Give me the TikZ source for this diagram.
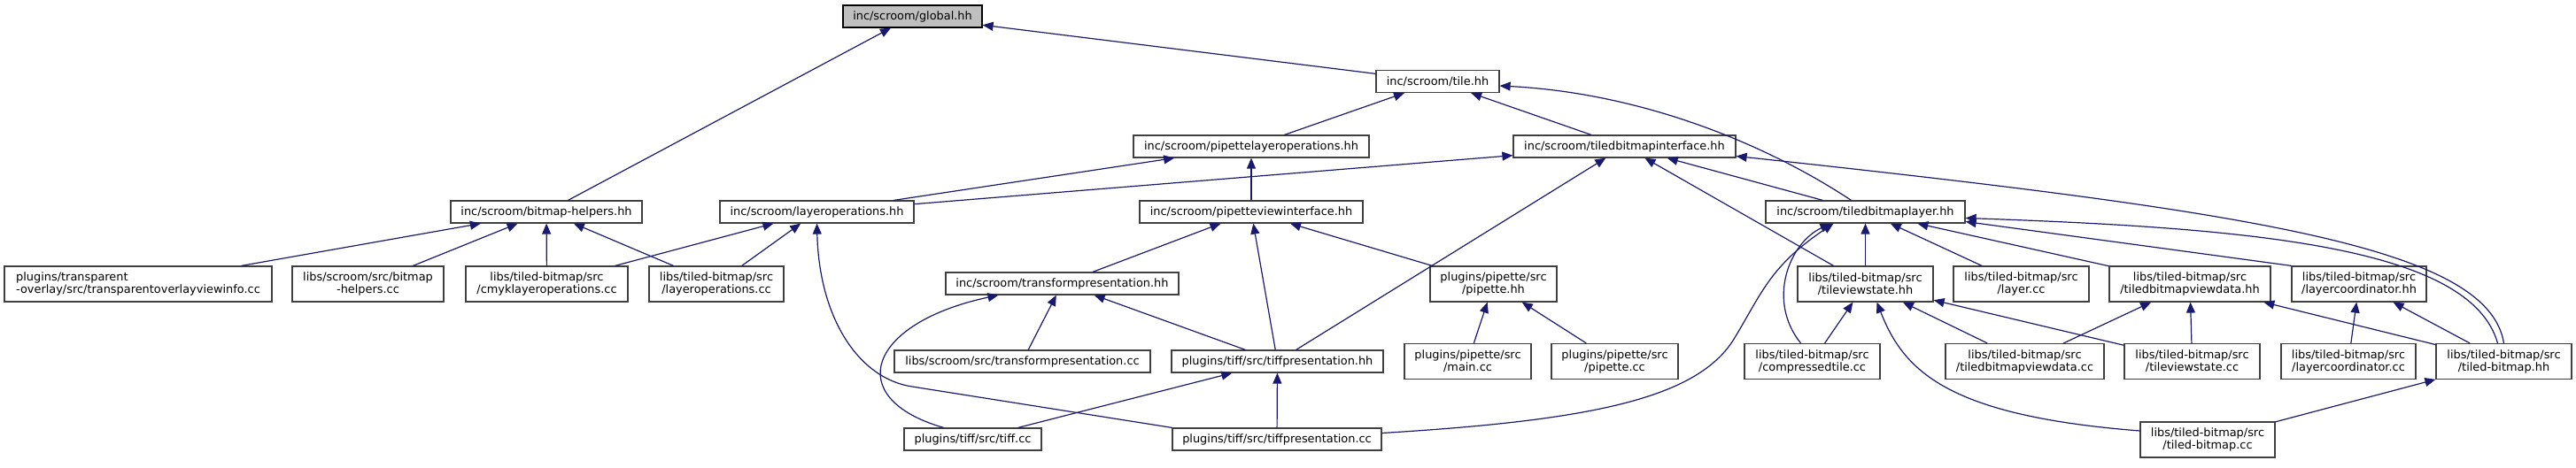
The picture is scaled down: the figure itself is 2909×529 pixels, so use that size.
\documentclass[tikz,border=0pt]{standalone}
\usepackage{fontspec}
\setmainfont{DejaVu Sans}
\usepackage{xcolor}
\usepackage{tikz}
\usetikzlibrary{arrows.meta}

\definecolor{edgeblue}{HTML}{191970}
\definecolor{boxline}{HTML}{404040}
\definecolor{mainfill}{HTML}{BFBFBF}

\tikzset{
    file/.style={draw=boxline, line width=1.2pt, fill=white, inner sep=0pt,
        minimum height=25pt, align=center, font=\fontsize{12.9}{14}\selectfont},
    file2/.style={file, minimum height=40pt},
    dep/.style={draw=edgeblue, line width=1.2pt, {Triangle[length=12pt,width=10pt]}-},
}

\begin{document}
\begin{tikzpicture}[x=1pt,y=-1pt]
    \useasboundingbox (0,0) rectangle (2909,529);

    \node[file, fill=mainfill, draw=black, minimum width=157pt] (global) at (1030.5,18.5) {inc/scroom/global.hh};
    \node[file, minimum width=139pt] (tile) at (1623.5,92) {inc/scroom/tile.hh};
    \node[file, minimum width=266pt] (pipettelayerops) at (1413,165.5) {inc/scroom/pipettelayeroperations.hh};
    \node[file, minimum width=251pt] (tbinterface) at (1834.5,165.5) {inc/scroom/tiledbitmapinterface.hh};

    \node[file, minimum width=216pt] (bmhelpers) at (617,239.5) {inc/scroom/bitmap-helpers.hh};
    \node[file, minimum width=219pt] (layerops) at (922.5,239.5) {inc/scroom/layeroperations.hh};
    \node[file, minimum width=252pt] (pipetteview) at (1413,239.5) {inc/scroom/pipetteviewinterface.hh};
    \node[file, minimum width=225pt] (tblayer) at (2106.5,239.5) {inc/scroom/tiledbitmaplayer.hh};

    \node[file2, minimum width=302pt, align=left] (overlayinfo) at (156,321) {plugins/transparent\\-overlay/src/transparentoverlayviewinfo.cc};
    \node[file2, minimum width=171pt] (bmhelperscc) at (415.5,321) {libs/scroom/src/bitmap\\-helpers.cc};
    \node[file2, minimum width=183pt] (cmykops) at (617.5,321) {libs/tiled-bitmap/src\\/cmyklayeroperations.cc};
    \node[file2, minimum width=152pt] (layeropscc) at (809,321) {libs/tiled-bitmap/src\\/layeroperations.cc};
    \node[file, minimum width=263pt] (transformhh) at (1199.5,320.5) {inc/scroom/transformpresentation.hh};
    \node[file2, minimum width=143pt] (pipettehh) at (1686.5,321) {plugins/pipette/src\\/pipette.hh};
    \node[file2, minimum width=153pt] (tvstatehh) at (2106.5,321) {libs/tiled-bitmap/src\\/tileviewstate.hh};
    \node[file2, minimum width=153pt] (layercc) at (2282.5,321) {libs/tiled-bitmap/src\\/layer.cc};
    \node[file2, minimum width=182pt] (tbviewdatahh) at (2473,321) {libs/tiled-bitmap/src\\/tiledbitmapviewdata.hh};
    \node[file2, minimum width=152pt] (lcoordhh) at (2664,321) {libs/tiled-bitmap/src\\/layercoordinator.hh};

    \node[file, minimum width=289pt] (transformcc) at (1154.5,408.5) {libs/scroom/src/transformpresentation.cc};
    \node[file, minimum width=239pt] (tiffpreshh) at (1442.5,408.5) {plugins/tiff/src/tiffpresentation.hh};
    \node[file2, minimum width=143pt] (maincc) at (1657.5,408.5) {plugins/pipette/src\\/main.cc};
    \node[file2, minimum width=143pt] (pipettecc) at (1823.5,408.5) {plugins/pipette/src\\/pipette.cc};
    \node[file2, minimum width=153pt] (comptilecc) at (2046.5,408.5) {libs/tiled-bitmap/src\\/compressedtile.cc};
    \node[file2, minimum width=179pt] (tbviewdatacc) at (2286.5,408.5) {libs/tiled-bitmap/src\\/tiledbitmapviewdata.cc};
    \node[file2, minimum width=153pt] (tvstatecc) at (2475.5,408.5) {libs/tiled-bitmap/src\\/tileviewstate.cc};
    \node[file2, minimum width=152pt] (lcoordcc) at (2652,408.5) {libs/tiled-bitmap/src\\/layercoordinator.cc};
    \node[file2, minimum width=153pt] (tbitmaphh) at (2827.5,408.5) {libs/tiled-bitmap/src\\/tiled-bitmap.hh};

    \node[file, minimum width=155pt] (tiffcc) at (1098.5,496.5) {plugins/tiff/src/tiff.cc};
    \node[file, minimum width=236pt] (tiffprescc) at (1442,496.5) {plugins/tiff/src/tiffpresentation.cc};
    \node[file2, minimum width=152pt] (tbitmapcc) at (2493,497) {libs/tiled-bitmap/src\\/tiled-bitmap.cc};

    % upper part
    \draw[dep] (global) -- (bmhelpers);
    \draw[dep] (global) -- (tile);
    \draw[dep] (tile) -- (pipettelayerops);
    \draw[dep] (tile) -- (tbinterface);
    \draw[dep] ([yshift=-5pt]tile.east) .. controls (1850,105) and (1990,160) .. ([xshift=-16pt]tblayer.north);
    \draw[dep] (pipettelayerops) -- (layerops);
    \draw[dep] (pipettelayerops) -- (pipetteview);
    \draw[dep] (tbinterface) -- (layerops);
    \draw[dep] (tbinterface) -- (tiffpreshh);
    \draw[dep] (tbinterface) -- (tvstatehh);
    \draw[dep] (tbinterface) -- (tblayer);
    \draw[dep] ([yshift=-11pt]tbinterface.east) .. controls (2550,240) and (2810,280) .. (tbitmaphh.north);

    % left part
    \draw[dep] (bmhelpers) -- (overlayinfo);
    \draw[dep] (bmhelpers) -- (bmhelperscc);
    \draw[dep] (bmhelpers) -- (cmykops);
    \draw[dep] (bmhelpers) -- (layeropscc);
    \draw[dep] (layerops) -- (cmykops);
    \draw[dep] (layerops) -- (layeropscc);
    \draw[dep] (layerops.south) .. controls (925,360) and (970,428) .. (1030,437) -- (tiffprescc.north west);

    % middle part
    \draw[dep] (pipetteview) -- (transformhh);
    \draw[dep] (pipetteview) -- (tiffpreshh);
    \draw[dep] (pipetteview) -- (pipettehh);
    \draw[dep] ([xshift=-72pt]transformhh.south) .. controls (980,365) and (950,450) .. ([xshift=-33pt]tiffcc.north);
    \draw[dep] (transformhh) -- (transformcc);
    \draw[dep] (transformhh) -- (tiffpreshh);
    \draw[dep] (tiffpreshh) -- (tiffcc);
    \draw[dep] (tiffpreshh) -- (tiffprescc);
    \draw[dep] (pipettehh) -- (maincc);
    \draw[dep] (pipettehh) -- (pipettecc);

    % right part
    \draw[dep] (tblayer) -- (tvstatehh);
    \draw[dep] (tblayer) -- (layercc);
    \draw[dep] (tblayer) -- (tbviewdatahh);
    \draw[dep] ([yshift=-11pt]tblayer.east) -- (lcoordhh.north west);
    \draw[dep] ([yshift=-7pt]tblayer.east) .. controls (2550,258) and (2790,280) .. ([xshift=-7pt]tbitmaphh.north);
    \draw[dep] ([xshift=-39pt]tblayer.south) .. controls (2020,275) and (1995,340) .. ([xshift=-13pt]comptilecc.north);
    \draw[dep] ([xshift=-36pt]tblayer.south) .. controls (2000,300) and (1990,330) .. (1960,380)
        .. controls (1920,450) and (1800,475) .. ([yshift=7pt]tiffprescc.east);
    \draw[dep] (tvstatehh) -- (comptilecc);
    \draw[dep] (tvstatehh) -- (tbviewdatacc);
    \draw[dep] (tvstatehh) -- (tvstatecc);
    \draw[dep] ([xshift=13pt]tvstatehh.south) .. controls (2150,420) and (2200,470) .. ([yshift=10pt]tbitmapcc.west);
    \draw[dep] (tbviewdatahh) -- (tbviewdatacc);
    \draw[dep] (tbviewdatahh) -- (tvstatecc);
    \draw[dep] (tbviewdatahh) -- (tbitmaphh);
    \draw[dep] (lcoordhh) -- (lcoordcc);
    \draw[dep] (lcoordhh) -- (tbitmaphh);
    \draw[dep] (tbitmaphh) -- (tbitmapcc);
\end{tikzpicture}
\end{document}
